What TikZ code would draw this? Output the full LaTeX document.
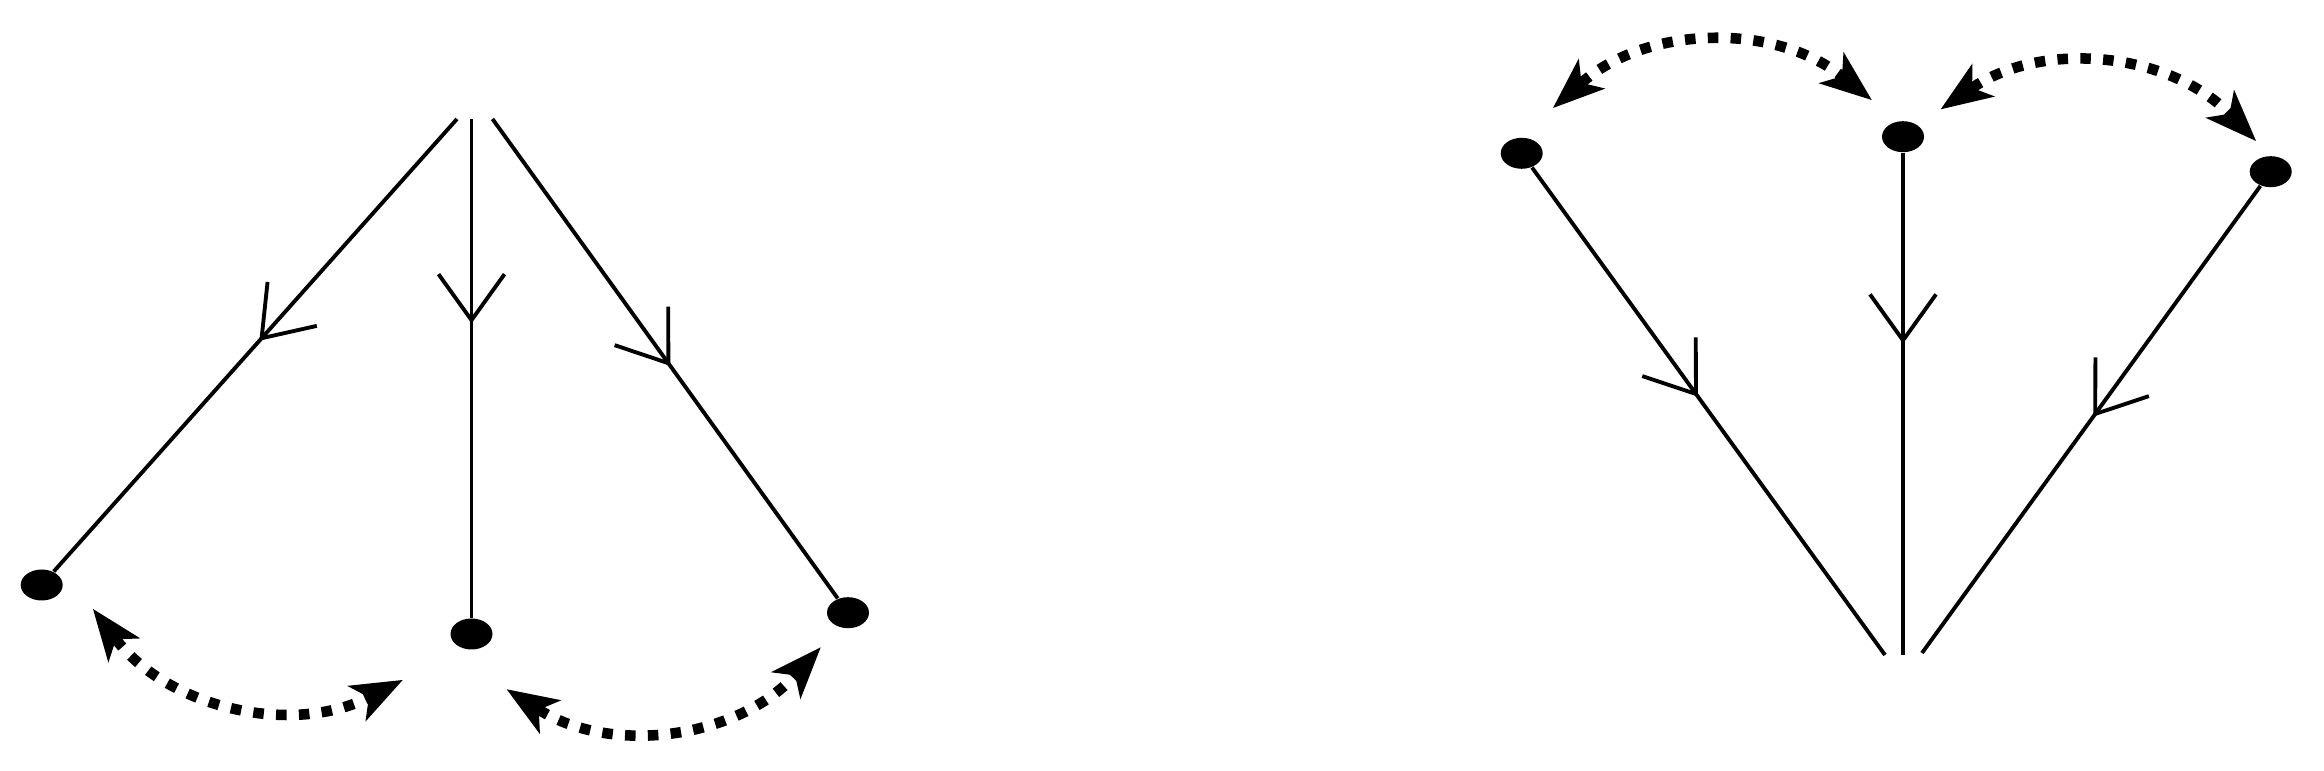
\documentclass[tikz,border=0pt]{standalone}
\usetikzlibrary{shapes.geometric,arrows.meta,decorations.markings}

\begin{document}
\begin{tikzpicture}
    \tikzstyle{dot}=[ellipse, fill, inner sep=0pt, minimum width=4.2mm, minimum height=3.1mm]
    \tikzstyle{leg}=[line width=1.1pt]
    \tikzstyle{swap}=[line width=3pt, dash pattern=on 3pt off 3.5pt, bend angle=40,
        {Stealth[length=5.2mm, width=4mm, inset=1.4mm, line width=0.4pt]}-{Stealth[length=5.2mm, width=4mm, inset=1.4mm, line width=0.4pt]}]
    \tikzset{mid/.style={postaction={decorate}, decoration={markings,
        mark=at position #1 with {\arrow{Straight Barb[length=4.6mm, width=6.6mm]}}}}}

    \useasboundingbox (0,0) rectangle (23.24,7.71);

    % left picture: three legs going out from the top
    \coordinate (tl) at (4.57,6.52);
    \coordinate (tm) at (4.715,6.52);
    \coordinate (tr) at (4.925,6.52);
    \node[dot] (la) at (0.417,1.86) {};
    \node[dot] (lb) at (4.715,1.37) {};
    \node[dot] (lc) at (8.48,1.583) {};

    \draw[leg, mid=0.49] (tl) -- (la);
    \draw[leg, mid=0.41] (tm) -- (lb);
    \draw[leg, mid=0.515] (tr) -- (lc);

    \coordinate (a1) at (0.93,1.62);
    \coordinate (a2) at (4.027,0.91);
    \coordinate (b1) at (5.067,0.817);
    \coordinate (b2) at (8.207,1.237);
    \draw[swap] (a1) to[bend right] (a2);
    \draw[swap] (b1) to[bend right] (b2);

    % right picture: three legs coming in at the bottom
    \node[dot] (ra) at (15.217,6.177) {};
    \node[dot] (rb) at (19.03,6.343) {};
    \node[dot] (rc) at (22.707,5.993) {};
    \coordinate (bl) at (18.85,1.16);
    \coordinate (bm) at (19.03,1.16);
    \coordinate (br) at (19.22,1.18);

    \draw[leg, mid=0.47] (ra) -- (bl);
    \draw[leg, mid=0.38] (rb) -- (bm);
    \draw[leg, mid=0.494] (rc) -- (br);

    \coordinate (c1) at (15.53,6.63);
    \coordinate (c2) at (18.717,6.71);
    \coordinate (d1) at (19.407,6.617);
    \coordinate (d2) at (22.56,6.30);
    \draw[swap] (c1) to[bend left] (c2);
    \draw[swap] (d1) to[bend left] (d2);
\end{tikzpicture}
\end{document}
